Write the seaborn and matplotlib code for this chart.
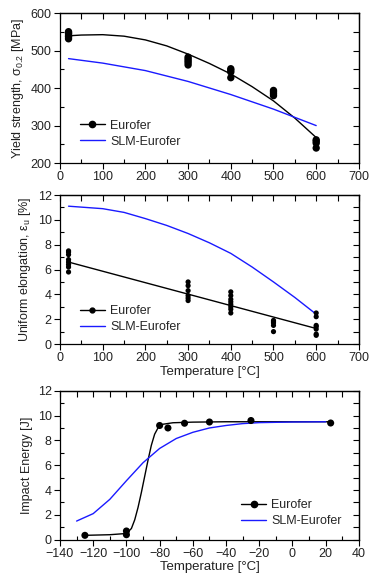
import numpy as np
import pandas as pd
import matplotlib
matplotlib.use("Agg")
import matplotlib.pyplot as plt
from matplotlib.lines import Line2D
from matplotlib.ticker import MultipleLocator
import seaborn as sns

sns.set_theme(style="ticks")
plt.rcParams['font.family'] = ['Liberation Sans', 'DejaVu Sans']
plt.rcParams['mathtext.fontset'] = 'custom'
plt.rcParams['mathtext.rm'] = 'Liberation Sans'
plt.rcParams['mathtext.it'] = 'Liberation Sans:italic'
plt.rcParams['mathtext.default'] = 'regular'

# --- yield strength (panel 1) ---
ys_x = [20, 20, 20, 20, 20, 20, 300, 300, 300, 300, 300, 400, 400, 400, 400,
        500, 500, 500, 500, 600, 600, 600, 600]
ys_y = [532, 537, 540, 545, 548, 551, 462, 468, 473, 478, 483, 428, 443, 448, 452,
        380, 385, 390, 394, 240, 253, 258, 262]
ys_fit_x = [20, 50, 100, 150, 200, 250, 300, 350, 400, 450, 500, 550, 600]
ys_fit_y = [540, 542, 543, 539, 529, 513, 491, 466, 438, 404, 366, 320, 268]
ys_slm_x = [20, 100, 200, 300, 400, 500, 600]
ys_slm_y = [479, 467, 447, 418, 383, 344, 300]

# --- uniform elongation (panel 2) ---
ue_x = [20] * 8 + [300] * 6 + [400] * 8 + [500] * 5 + [600] * 7
ue_y = [5.8, 6.2, 6.4, 6.6, 6.8, 7.2, 7.4, 7.5,
        3.5, 3.7, 3.9, 4.3, 4.7, 5.0,
        2.5, 2.8, 3.0, 3.2, 3.4, 3.6, 3.9, 4.2,
        1.0, 1.5, 1.7, 1.8, 1.9,
        0.7, 0.8, 1.2, 1.4, 1.5, 2.2, 2.5]
ue_fit_x = [20, 600]
ue_fit_y = [6.6, 1.25]
ue_slm_x = [20, 100, 150, 200, 250, 300, 350, 400, 450, 500, 550, 600]
ue_slm_y = [11.1, 10.9, 10.6, 10.1, 9.55, 8.9, 8.15, 7.3, 6.2, 5.0, 3.75, 2.4]

# --- impact energy (panel 3) ---
ie_x = [-125, -100, -100, -80, -75, -65, -50, -25, 23]
ie_y = [0.35, 0.7, 0.4, 9.2, 9.0, 9.38, 9.48, 9.6, 9.4]
ie_fit_x = [-125, -110, -100, -97, -95, -93, -91, -89, -87, -85, -83, -81, -78, -72, -60, -40, -20, 23]
ie_fit_y = [0.35, 0.4, 0.5, 0.9, 1.6, 2.6, 3.8, 5.1, 6.4, 7.6, 8.5, 9.0, 9.3, 9.42, 9.47, 9.5, 9.5, 9.5]
ie_slm_x = [-130, -120, -110, -100, -90, -80, -70, -60, -50, -40, -30, -20, 0, 20]
ie_slm_y = [1.5, 2.1, 3.25, 4.75, 6.2, 7.35, 8.15, 8.65, 9.0, 9.2, 9.35, 9.43, 9.48, 9.5]

BLUE = '#1a1aff'
FS = 9


def style_axis(ax, xlim, ylim, xmaj, xmin, ymaj, ymin):
    ax.set_xlim(*xlim)
    ax.set_ylim(*ylim)
    ax.xaxis.set_major_locator(MultipleLocator(xmaj))
    ax.xaxis.set_minor_locator(MultipleLocator(xmin))
    ax.yaxis.set_major_locator(MultipleLocator(ymaj))
    ax.yaxis.set_minor_locator(MultipleLocator(ymin))
    ax.tick_params(which='major', direction='out', length=4, width=0.8,
                   labelsize=FS, color='black', labelcolor='#222222', pad=2)
    ax.tick_params(which='minor', direction='in', length=3, width=0.8, color='black')
    for s in ax.spines.values():
        s.set_visible(True)
        s.set_linewidth(0.9)
        s.set_color('black')
    # inward ticks on top and right
    top = ax.secondary_xaxis('top')
    top.set_xticks(np.arange(xlim[0], xlim[1] + 1e-9, xmin))
    top.tick_params(direction='in', length=4, width=0.8, labeltop=False, color='black')
    right = ax.secondary_yaxis('right')
    right.set_yticks(np.arange(ylim[0], ylim[1] + 1e-9, ymin))
    right.tick_params(direction='in', length=4, width=0.8, labelright=False, color='black')
    for sec in (top, right):
        for s in sec.spines.values():
            s.set_linewidth(0.9)


def add_legend(ax, ms, loc, anchor):
    handles = [Line2D([], [], color='black', lw=1, marker='o', markersize=ms),
               Line2D([], [], color=BLUE, lw=1)]
    ax.legend(handles, ['Eurofer', 'SLM-Eurofer'], loc=loc, bbox_to_anchor=anchor,
              frameon=False, fontsize=FS, handlelength=2.0, handletextpad=0.4,
              borderaxespad=0, labelspacing=0.3)


fig = plt.figure(figsize=(3.69, 5.83), dpi=100)
ax1 = fig.add_axes([0.1626, 0.7204, 0.810, 0.2567])
ax2 = fig.add_axes([0.1626, 0.4099, 0.810, 0.2556])
ax3 = fig.add_axes([0.1626, 0.0743, 0.810, 0.2555])

# panel 1
sns.scatterplot(x=ys_x, y=ys_y, ax=ax1, color='black', s=28, edgecolor='none', zorder=3)
sns.lineplot(x=ys_fit_x, y=ys_fit_y, ax=ax1, color='black', lw=1, estimator=None)
sns.lineplot(x=ys_slm_x, y=ys_slm_y, ax=ax1, color=BLUE, lw=1, estimator=None)
style_axis(ax1, (0, 700), (200, 600), 100, 50, 100, 50)
ax1.set_ylabel('Yield strength, σ$_{0.2}$ [MPa]', fontsize=FS, color='#222222', labelpad=3)
ax1.set_xlabel('')
add_legend(ax1, 4.5, 'lower left', (0.05, 0.07))

# panel 2
sns.scatterplot(x=ue_x, y=ue_y, ax=ax2, color='black', s=14, edgecolor='none', zorder=3)
sns.lineplot(x=ue_fit_x, y=ue_fit_y, ax=ax2, color='black', lw=1, estimator=None)
sns.lineplot(x=ue_slm_x, y=ue_slm_y, ax=ax2, color=BLUE, lw=1, estimator=None)
style_axis(ax2, (0, 700), (0, 12), 100, 50, 2, 1)
ax2.set_ylabel('Uniform elongation, ε$_u$ [%]', fontsize=FS, color='#222222', labelpad=3)
ax2.set_xlabel('Temperature [°C]', fontsize=FS + 0.5, color='#222222', labelpad=1)
add_legend(ax2, 3.5, 'lower left', (0.05, 0.04))

# panel 3
sns.scatterplot(x=ie_x, y=ie_y, ax=ax3, color='black', s=26, edgecolor='none', zorder=3)
sns.lineplot(x=ie_fit_x, y=ie_fit_y, ax=ax3, color='black', lw=1, estimator=None)
sns.lineplot(x=ie_slm_x, y=ie_slm_y, ax=ax3, color=BLUE, lw=1, estimator=None)
style_axis(ax3, (-140, 40), (0, 12), 20, 10, 2, 1)
ax3.set_ylabel('Impact Energy [J]', fontsize=FS, color='#222222', labelpad=3)
ax3.set_xlabel('Temperature [°C]', fontsize=FS + 0.5, color='#222222', labelpad=1)
add_legend(ax3, 4.5, 'lower right', (0.96, 0.05))

fig.savefig('out.png', dpi=100)
